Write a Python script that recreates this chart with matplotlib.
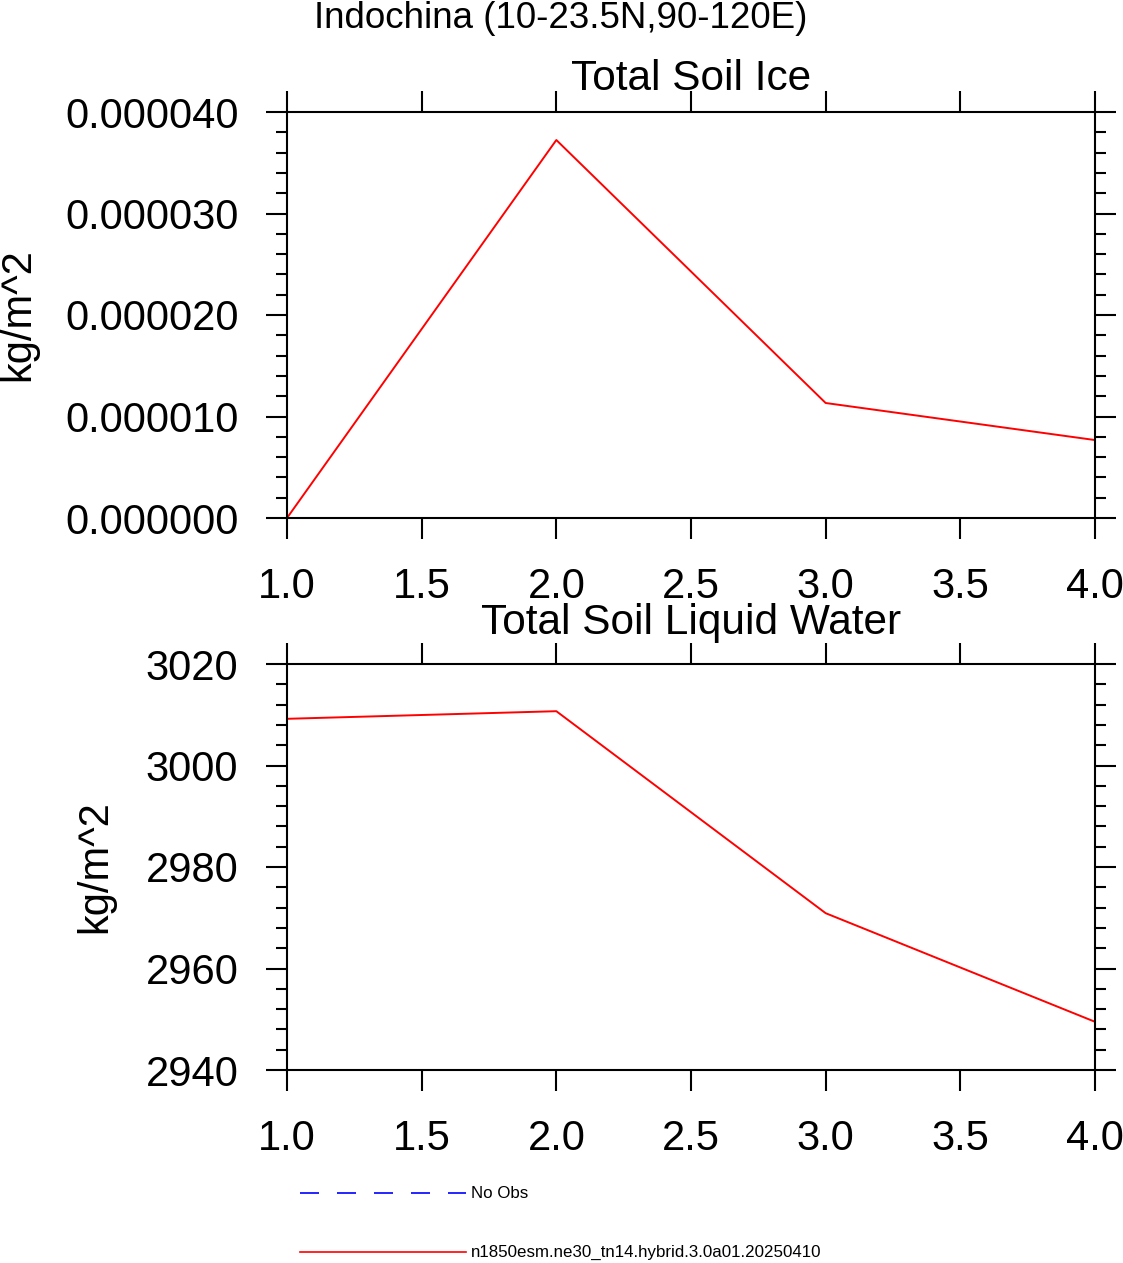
import matplotlib
matplotlib.use("Agg")
import matplotlib.pyplot as plt
from matplotlib.ticker import MultipleLocator, FormatStrFormatter

plt.rcParams['font.family'] = ['Liberation Sans', 'DejaVu Sans']

x = [1, 2, 3, 4]
ice = [0.0, 3.724e-5, 1.133e-5, 7.68e-6]
liq = [3009.2, 3010.7, 2970.9, 2949.5]
suptitle = "Indochina (10-23.5N,90-120E)"
titles = ["Total Soil Ice", "Total Soil Liquid Water"]
ylab = "kg/m^2"
legend_labels = ["No Obs", "n1850esm.ne30_tn14.hybrid.3.0a01.20250410"]

W, H = 1123, 1263
fig = plt.figure(figsize=(W/100, H/100), dpi=100)

def px_axes(x0, y0, x1, y1):
    return fig.add_axes([x0/W, 1-y1/H, (x1-x0)/W, (y1-y0)/H])

ax1 = px_axes(287, 112, 1095, 518)
ax2 = px_axes(287, 664, 1095, 1070)

def style(ax):
    ax.set_xlim(1, 4)
    ax.xaxis.set_major_locator(MultipleLocator(0.5))
    ax.xaxis.set_major_formatter(FormatStrFormatter('%.1f'))
    ax.tick_params(which='both', direction='out', top=True, right=True,
                   width=1.5, labelsize=30, pad=20)
    ax.tick_params(which='major', length=15)
    ax.tick_params(which='minor', length=8)
    ax.tick_params(axis='x', which='minor', bottom=False, top=False)
    for s in ax.spines.values():
        s.set_linewidth(1.5)

ax1.plot(x, ice, color='red', lw=1.4)
style(ax1)
ax1.set_ylim(0, 4e-5)
ax1.yaxis.set_major_locator(MultipleLocator(1e-5))
ax1.yaxis.set_minor_locator(MultipleLocator(2e-6))
ax1.yaxis.set_major_formatter(FormatStrFormatter('%.6f'))
ax1.set_ylabel(ylab, fontsize=30)
ax1.yaxis.set_label_coords(-249/808, 0.5)

ax2.plot(x, liq, color='red', lw=1.4)
style(ax2)
ax2.set_ylim(2940, 3020)
ax2.yaxis.set_major_locator(MultipleLocator(20))
ax2.yaxis.set_minor_locator(MultipleLocator(4))
ax2.yaxis.set_major_formatter(FormatStrFormatter('%d'))
ax2.set_ylabel(ylab, fontsize=30)
ax2.yaxis.set_label_coords(-172/808, 0.5)

fig.text(691/W, 1-90/H, titles[0], fontsize=30.5, ha='center', va='baseline')
fig.text(691/W, 1-634/H, titles[1], fontsize=30.5, ha='center', va='baseline')
fig.text(561/W, 1-28/H, suptitle, fontsize=26.5, ha='center', va='baseline')

# legend
lax = fig.add_axes([0, 0, 1, 1], zorder=-1)
lax.set_xlim(0, W)
lax.set_ylim(H, 0)
lax.axis('off')
lax.plot([300, 466], [1193, 1193], color='blue', lw=1.2, dashes=(11.4, 10.8))
lax.plot([300, 466], [1252, 1252], color='red', lw=1.2)
lax.text(471, 1193, legend_labels[0], fontsize=12.2, va='center', ha='left')
lax.text(471, 1252, legend_labels[1], fontsize=12.2, va='center', ha='left')

fig.savefig("out.png", dpi=100)
